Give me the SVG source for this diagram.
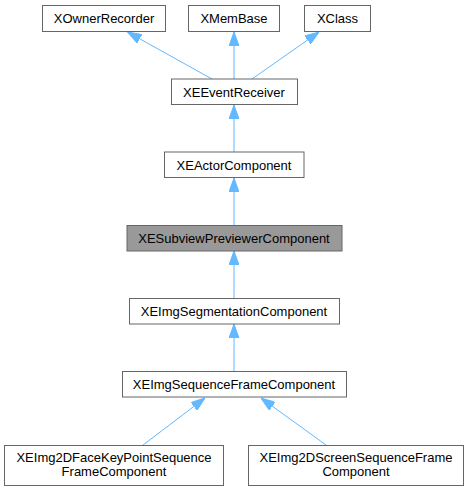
<svg xmlns="http://www.w3.org/2000/svg" width="469" height="491" viewBox="0 0 469 491">
<style>
.box{fill:#ffffff;stroke:#666666;stroke-width:1}
.hl{fill:#999999;stroke:#666666;stroke-width:1}
.t{font-family:"Liberation Sans",Arial,sans-serif;font-size:13px;fill:#000000;text-anchor:middle}
.e{stroke:#63b8ff;stroke-width:1;fill:none;marker-end:url(#arr)}
</style>
<defs>
<marker id="arr" viewBox="0 0 14 10" refX="14" refY="5" markerWidth="14" markerHeight="10" markerUnits="userSpaceOnUse" orient="auto">
<path d="M0,0 L14,5 L0,10 z" fill="#63b8ff" stroke="#63b8ff"/>
</marker>
</defs>
<rect width="469" height="491" fill="#ffffff"/>
<g id="connectors">
<line class="e" x1="212" y1="79" x2="127.5" y2="32"/>
<line class="e" x1="234" y1="79" x2="234" y2="32"/>
<line class="e" x1="252" y1="79" x2="319" y2="32"/>
<line class="e" x1="234" y1="152" x2="234" y2="105"/>
<line class="e" x1="234" y1="225" x2="234" y2="178"/>
<line class="e" x1="234" y1="298" x2="234" y2="251"/>
<line class="e" x1="234" y1="371" x2="234" y2="324"/>
<line class="e" x1="143" y1="445" x2="205" y2="398"/>
<line class="e" x1="326" y1="445" x2="261" y2="398"/>
</g>
<g id="XOwnerRecorder"><rect class="box" x="42.5" y="5.5" width="123" height="26"/><text class="t" x="104" y="23">XOwnerRecorder</text></g>
<g id="XMemBase"><rect class="box" x="188.5" y="5.5" width="91" height="26"/><text class="t" x="234" y="23">XMemBase</text></g>
<g id="XClass"><rect class="box" x="304.5" y="5.5" width="66" height="26"/><text class="t" x="337.5" y="23">XClass</text></g>
<g id="XEEventReceiver"><rect class="box" x="171.5" y="79" width="126" height="25.5"/><text class="t" x="234" y="96.5">XEEventReceiver</text></g>
<g id="XEActorComponent"><rect class="box" x="164.5" y="152" width="139.5" height="25.5"/><text class="t" x="234" y="169.5">XEActorComponent</text></g>
<g id="XESubviewPreviewerComponent"><rect class="hl" x="127" y="225.5" width="215" height="25.5"/><text class="t" x="234" y="242.5">XESubviewPreviewerComponent</text></g>
<g id="XEImgSegmentationComponent"><rect class="box" x="129.5" y="298.5" width="210" height="25.5"/><text class="t" x="234" y="315.5">XEImgSegmentationComponent</text></g>
<g id="XEImgSequenceFrameComponent"><rect class="box" x="122.5" y="371.5" width="224" height="25.5"/><text class="t" x="234" y="388.5">XEImgSequenceFrameComponent</text></g>
<g id="XEImg2DFaceKeyPointSequenceFrameComponent"><rect class="box" x="4.5" y="445.5" width="219" height="40"/><text class="t" x="114" y="462">XEImg2DFaceKeyPointSequence</text><text class="t" x="114" y="476">FrameComponent</text></g>
<g id="XEImg2DScreenSequenceFrameComponent"><rect class="box" x="248.5" y="445.5" width="215" height="40"/><text class="t" x="356" y="462">XEImg2DScreenSequenceFrame</text><text class="t" x="356" y="476">Component</text></g>
</svg>
